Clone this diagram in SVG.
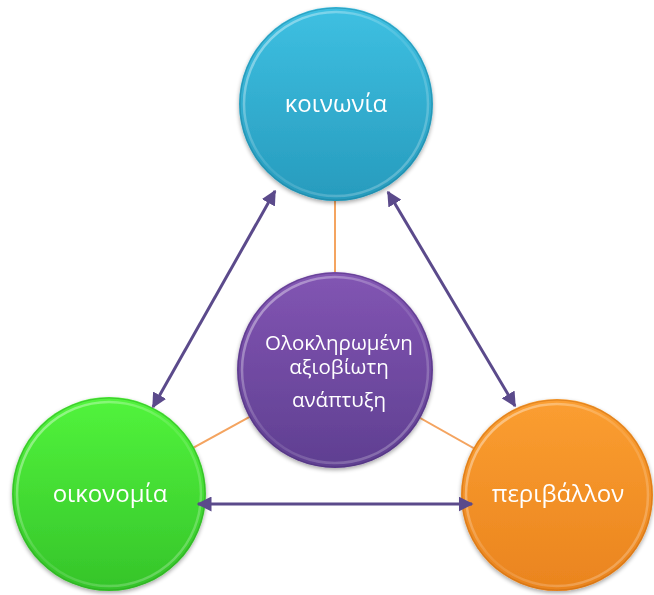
<svg xmlns="http://www.w3.org/2000/svg" width="654" height="595" viewBox="0 0 654 595">
  <defs>
    <linearGradient id="gBlue" x1="0" y1="0" x2="0" y2="1">
      <stop offset="0" stop-color="#3ec0e2"/>
      <stop offset="1" stop-color="#279bbd"/>
    </linearGradient>
    <linearGradient id="gGreen" x1="0" y1="0" x2="0" y2="1">
      <stop offset="0" stop-color="#52f43c"/>
      <stop offset="1" stop-color="#35c42a"/>
    </linearGradient>
    <linearGradient id="gOrange" x1="0" y1="0" x2="0" y2="1">
      <stop offset="0" stop-color="#fb9e31"/>
      <stop offset="1" stop-color="#ea841e"/>
    </linearGradient>
    <linearGradient id="gPurple" x1="0" y1="0" x2="0" y2="1">
      <stop offset="0" stop-color="#8255b3"/>
      <stop offset="1" stop-color="#5f3f91"/>
    </linearGradient>
    <linearGradient id="gRim" x1="0" y1="0" x2="1" y2="1">
      <stop offset="0" stop-color="#ffffff" stop-opacity="0.5"/>
      <stop offset="0.5" stop-color="#ffffff" stop-opacity="0.1"/>
      <stop offset="1" stop-color="#ffffff" stop-opacity="0.3"/>
    </linearGradient>
    <filter id="shadow" x="-20%" y="-20%" width="140%" height="140%">
      <feGaussianBlur in="SourceAlpha" stdDeviation="2"/>
      <feOffset dx="0" dy="2" result="b"/>
      <feComponentTransfer><feFuncA type="linear" slope="0.35"/></feComponentTransfer>
      <feMerge><feMergeNode/><feMergeNode in="SourceGraphic"/></feMerge>
    </filter>
    <marker id="arrow" viewBox="0 0 10 10" refX="9" refY="5" markerWidth="5" markerHeight="5" orient="auto-start-reverse" markerUnits="strokeWidth">
      <path d="M0,0 L10,5 L0,10 Z" fill="#5b4a8b"/>
    </marker>
  </defs>
  <style>
    .rim { fill: none; stroke: url(#gRim); stroke-width: 2.5; }
    .edge { fill: none; stroke-width: 1.2; stroke-opacity: 0.5; }
    .lbl { font-family: "Open Sans", "Noto Sans", "DejaVu Sans", sans-serif; fill: #ffffff; text-anchor: middle; }
    .outer { font-size: 24px; }
    .inner { font-size: 20.5px; }
    .link { stroke: #f4a460; stroke-width: 2; fill: none; }
    .biarrow { stroke: #5b4a8b; stroke-width: 3; fill: none; marker-start: url(#arrow); marker-end: url(#arrow); }
  </style>

  <g id="links">
    <line class="link" x1="335" y1="370" x2="335" y2="104"/>
    <line class="link" x1="335" y1="370" x2="109" y2="494"/>
    <line class="link" x1="335" y1="370" x2="557" y2="495"/>
  </g>

  <g id="node-koinonia" filter="url(#shadow)">
    <circle cx="336" cy="104" r="97" fill="url(#gBlue)"/>
    <circle class="edge" cx="336" cy="104" r="96" stroke="#1e7f9c"/>
    <circle class="rim" cx="336" cy="104" r="92"/>
    <text class="lbl outer" x="336" y="112">κοινωνία</text>
  </g>

  <g id="node-oikonomia" filter="url(#shadow)">
    <circle cx="109" cy="494" r="97" fill="url(#gGreen)"/>
    <circle class="edge" cx="109" cy="494" r="96" stroke="#2a9e22"/>
    <circle class="rim" cx="109" cy="494" r="92"/>
    <text class="lbl outer" x="110" y="502">οικονομία</text>
  </g>

  <g id="node-perivallon" filter="url(#shadow)">
    <circle cx="557" cy="495" r="96" fill="url(#gOrange)"/>
    <circle class="edge" cx="557" cy="495" r="95" stroke="#c56a12"/>
    <circle class="rim" cx="557" cy="495" r="91"/>
    <text class="lbl outer" x="558" y="502">περιβάλλον</text>
  </g>

  <g id="node-center" filter="url(#shadow)">
    <circle cx="335" cy="370" r="98" fill="url(#gPurple)"/>
    <circle class="edge" cx="335" cy="370" r="97" stroke="#4a2f75"/>
    <circle class="rim" cx="335" cy="370" r="93"/>
    <text class="lbl inner" x="339" y="350">Ολοκληρωμένη</text>
    <text class="lbl inner" x="339" y="374">αξιοβίωτη</text>
    <text class="lbl inner" x="339" y="407">ανάπτυξη</text>
  </g>

  <g id="connectors">
    <line class="biarrow" x1="275" y1="191" x2="153" y2="407"/>
    <line class="biarrow" x1="388" y1="192" x2="515" y2="406"/>
    <line class="biarrow" x1="198" y1="504" x2="472" y2="504"/>
  </g>
</svg>
